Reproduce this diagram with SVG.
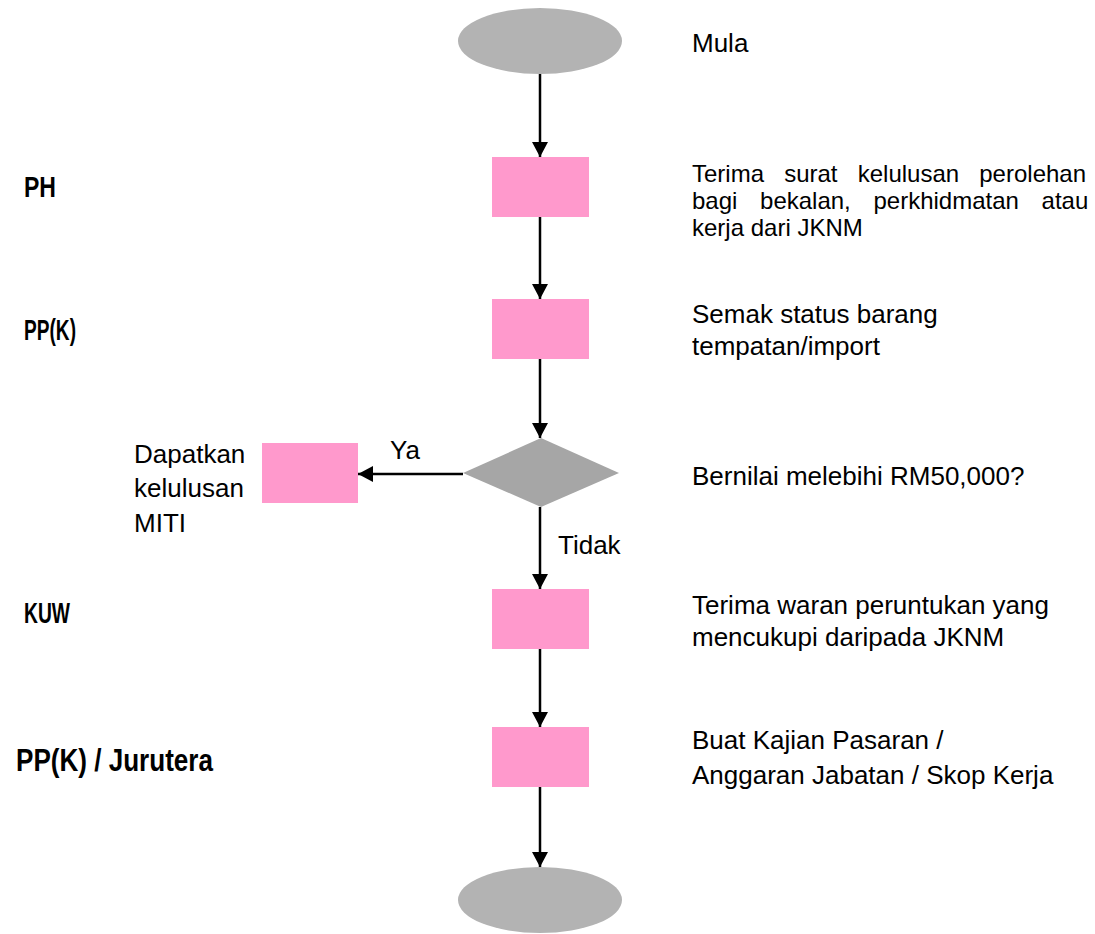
<svg xmlns="http://www.w3.org/2000/svg" width="1095" height="934" viewBox="0 0 1095 934">
  <defs>
    <style>
      .term { fill: #b3b3b3; }
      .proc { fill: #ff99cc; }
      .dec { fill: #a6a6a6; }
      .edge { stroke: #000; stroke-width: 2.5; fill: none; marker-end: url(#arrow); }
      .txt { font-family: "Liberation Sans", Arial, sans-serif; font-size: 26px; fill: #000; }
      .para { font-family: "Liberation Sans", Arial, sans-serif; font-size: 24px; fill: #000; }
      .role { font-family: "Liberation Sans", Arial, sans-serif; font-weight: bold; font-size: 29px; fill: #000; }
      .role-lg { font-family: "Liberation Sans", Arial, sans-serif; font-weight: bold; font-size: 31px; fill: #000; }
    </style>
    <marker id="arrow" markerUnits="userSpaceOnUse" markerWidth="16" markerHeight="16" refX="15" refY="8" orient="auto">
      <path d="M0,0 L15,8 L0,16 Z" fill="#000"/>
    </marker>
  </defs>

  <rect width="1095" height="934" fill="#fff"/>

  <!-- connectors -->
  <g id="connectors">
    <line class="edge" x1="540" y1="74" x2="540" y2="157"/>
    <line class="edge" x1="540" y1="217" x2="540" y2="299"/>
    <line class="edge" x1="540" y1="359" x2="540" y2="438"/>
    <line class="edge" x1="463" y1="474" x2="358" y2="474"/>
    <line class="edge" x1="540" y1="507" x2="540" y2="589"/>
    <line class="edge" x1="540" y1="649" x2="540" y2="727"/>
    <line class="edge" x1="540" y1="787" x2="540" y2="867"/>
    <text class="txt" x="390" y="459">Ya</text>
    <text class="txt" x="558" y="554">Tidak</text>
  </g>

  <!-- start -->
  <g id="start">
    <ellipse class="term" cx="540" cy="41" rx="82" ry="33"/>
    <text class="txt" x="692" y="52">Mula</text>
  </g>

  <!-- receive approval letter -->
  <g id="step-terima-surat">
    <rect class="proc" x="492" y="157" width="97" height="60"/>
    <text class="role" x="24" y="197" textLength="32" lengthAdjust="spacingAndGlyphs">PH</text>
    <text class="para">
      <tspan x="692" y="182" word-spacing="13.5">Terima surat kelulusan perolehan</tspan>
      <tspan x="692" y="209" word-spacing="16">bagi bekalan, perkhidmatan atau</tspan>
      <tspan x="692" y="236">kerja dari JKNM</tspan>
    </text>
  </g>

  <!-- check goods status -->
  <g id="step-semak-status">
    <rect class="proc" x="492" y="299" width="97" height="60"/>
    <text class="role" x="24" y="340" textLength="52" lengthAdjust="spacingAndGlyphs">PP(K)</text>
    <text class="txt">
      <tspan x="692" y="323">Semak status barang</tspan>
      <tspan x="692" y="355">tempatan/import</tspan>
    </text>
  </g>

  <!-- value decision -->
  <g id="decision-nilai">
    <polygon class="dec" points="541,438 619,473 541,507 463,473"/>
    <text class="txt" x="692" y="485">Bernilai melebihi RM50,000?</text>
  </g>

  <!-- MITI approval branch -->
  <g id="step-miti">
    <rect class="proc" x="262" y="443" width="96" height="60"/>
    <text class="txt">
      <tspan x="134" y="463">Dapatkan</tspan>
      <tspan x="134" y="497">kelulusan</tspan>
      <tspan x="134" y="532">MITI</tspan>
    </text>
  </g>

  <!-- receive allocation warrant -->
  <g id="step-terima-waran">
    <rect class="proc" x="492" y="589" width="97" height="60"/>
    <text class="role" x="24" y="623" textLength="46" lengthAdjust="spacingAndGlyphs">KUW</text>
    <text class="txt">
      <tspan x="692" y="614">Terima waran peruntukan yang</tspan>
      <tspan x="692" y="646">mencukupi daripada JKNM</tspan>
    </text>
  </g>

  <!-- market study -->
  <g id="step-kajian">
    <rect class="proc" x="492" y="727" width="97" height="60"/>
    <text class="role-lg" x="16" y="771" textLength="197" lengthAdjust="spacingAndGlyphs">PP(K) / Jurutera</text>
    <text class="txt">
      <tspan x="692" y="749">Buat Kajian Pasaran /</tspan>
      <tspan x="692" y="784">Anggaran Jabatan / Skop Kerja</tspan>
    </text>
  </g>

  <!-- end -->
  <g id="end">
    <ellipse class="term" cx="540" cy="900" rx="82" ry="33"/>
  </g>
</svg>
